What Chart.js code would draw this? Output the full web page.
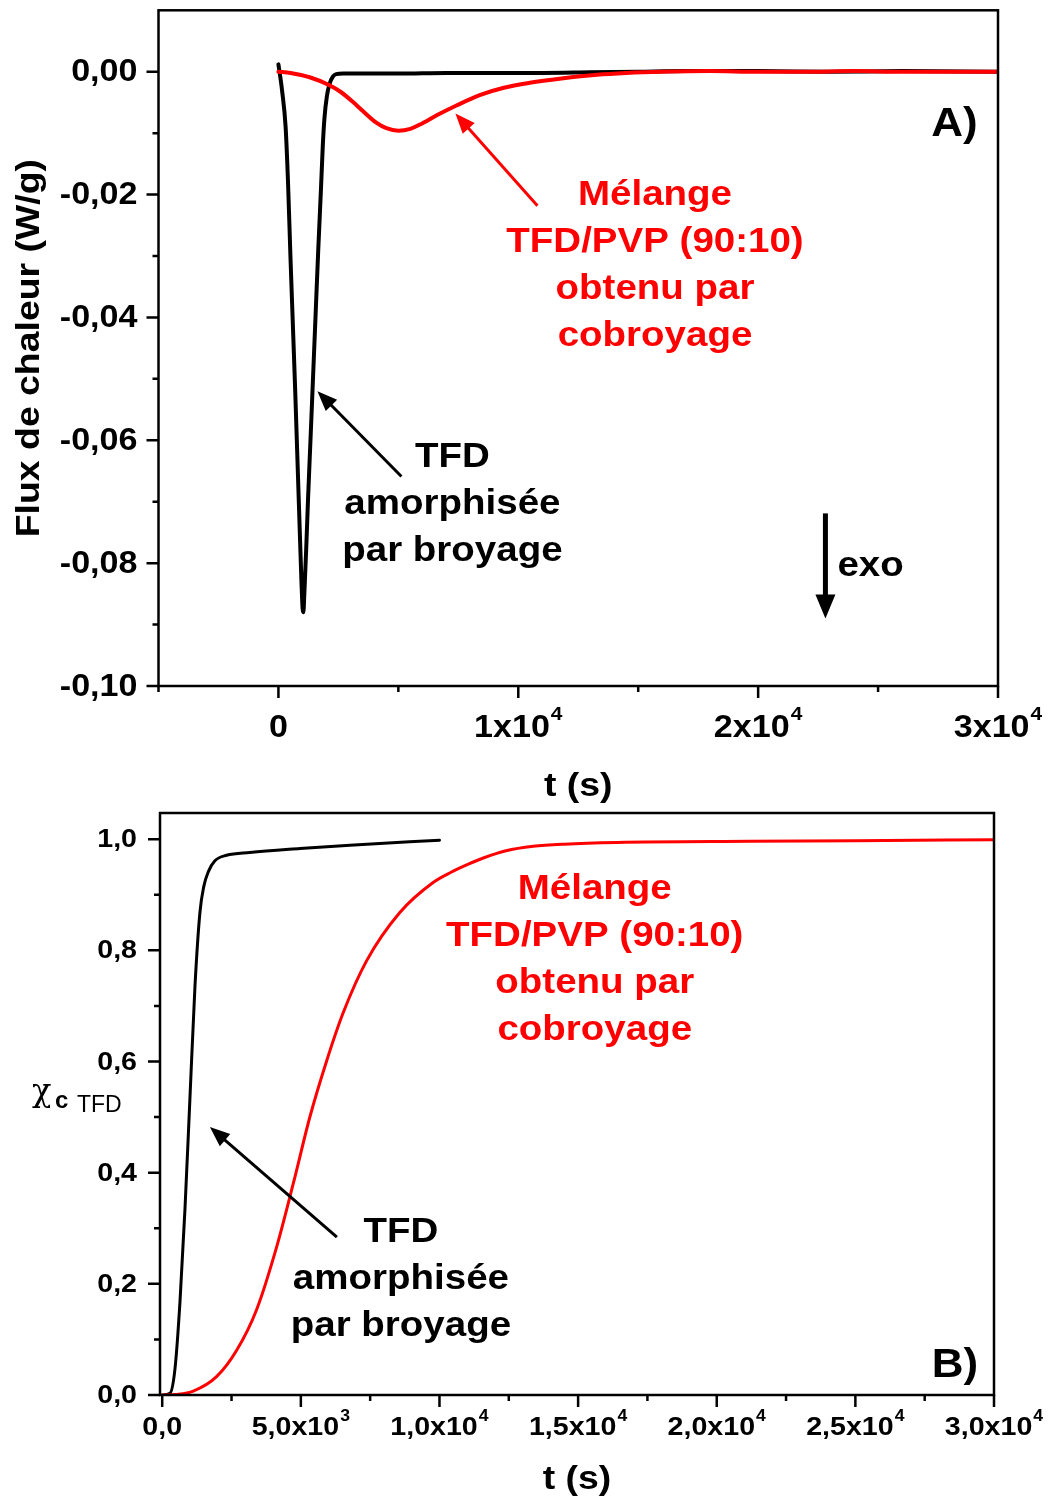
<!DOCTYPE html>
<html>
<head>
<meta charset="utf-8">
<script src="https://cdn.jsdelivr.net/npm/chart.js@4.4.1/dist/chart.umd.min.js"></script>
<style>
    html, body { margin: 0; padding: 0; background: #fff; }
    #chartA { position: absolute; left: 0; top: 0; }
    #chartB { position: absolute; left: 0; top: 808px; }
</style>
</head>
<body>
<canvas id="chartA" width="1050" height="808"></canvas>
<canvas id="chartB" width="1050" height="691"></canvas>
<script>
// ---- données ----
// A) flux de chaleur (W/g) en fonction de t (s)
const dscTimeBlack = [0, 150, 300, 400, 500, 600, 700, 800, 900, 960, 1010, 1040, 1080, 1160, 1240, 1320, 1430, 1545, 1660, 1780, 1850, 1920, 2020, 2130, 2270, 2410, 2700, 3500, 5000, 7000, 9000, 11000, 13000, 15000, 17000, 20000, 23000, 26000, 30000];
const dscFluxBlack = [0.0012, -0.003, -0.009, -0.018, -0.030, -0.041, -0.052, -0.064, -0.076, -0.083, -0.0875, -0.088, -0.085, -0.0775, -0.069, -0.0615, -0.051, -0.040, -0.029, -0.0185, -0.012, -0.0075, -0.004, -0.002, -0.0008, -0.0004, -0.0003, -0.0003, -0.0003, -0.0002, -0.0002, -0.0002, -0.0001, 0.0000, 0.0001, 0.0001, 0.0000, 0.0001, 0.0000];
const dscTimeRed = [0, 500, 1300, 2130, 2600, 3100, 3520, 4080, 4500, 5000, 5500, 5900, 6600, 7420, 8390, 9400, 10480, 11800, 13270, 14500, 16000, 18000, 20000, 22000, 24000, 26000, 28000, 30000];
const dscFluxRed = [0.0000, -0.0002, -0.0009, -0.0022, -0.0033, -0.0049, -0.0064, -0.0083, -0.0092, -0.0096, -0.0093, -0.0086, -0.0071, -0.0055, -0.0038, -0.0026, -0.0018, -0.0011, -0.0005, -0.0002, 0.0000, 0.0001, 0.0000, 0.0000, 0.0001, 0.0000, 0.0000, 0.0000];

// B) taux de cristallisation en fonction de t (s)
const chiTimeBlack = [0, 280, 460, 640, 820, 1000, 1180, 1360, 1500, 1660, 1900, 2320, 3160, 4970, 6770, 10000];
const chiValueBlack = [0, 0.003, 0.047, 0.167, 0.334, 0.534, 0.734, 0.868, 0.915, 0.941, 0.961, 0.971, 0.976, 0.983, 0.989, 0.998];
const chiTimeRed = [0, 500, 1120, 1960, 2680, 3400, 4130, 4730, 5330, 5930, 6530, 7370, 8570, 9770, 10400, 11000, 11580, 12400, 13380, 14500, 16400, 21200, 25000, 30000];
const chiValueRed = [0, 0.001, 0.007, 0.033, 0.080, 0.153, 0.267, 0.381, 0.501, 0.601, 0.688, 0.781, 0.868, 0.922, 0.940, 0.954, 0.966, 0.979, 0.987, 0.991, 0.994, 0.996, 0.997, 0.999];

// graduations
const topXMajor = [0, 10000, 20000, 30000];
const topXLabels = [['0', ''], ['1x10', '4'], ['2x10', '4'], ['3x10', '4']];
const topXMinor = [-5000, 5000, 15000, 25000];
const topYMajor = [0, -0.02, -0.04, -0.06, -0.08, -0.10];
const topYLabels = ['0,00', '-0,02', '-0,04', '-0,06', '-0,08', '-0,10'];
const topYMinor = [-0.01, -0.03, -0.05, -0.07, -0.09];

const botXMajor = [0, 5000, 10000, 15000, 20000, 25000, 30000];
const botXLabels = [['0,0', ''], ['5,0x10', '3'], ['1,0x10', '4'], ['1,5x10', '4'], ['2,0x10', '4'], ['2,5x10', '4'], ['3,0x10', '4']];
const botXMinor = [2500, 7500, 12500, 17500, 22500, 27500];
const botYMajor = [0, 0.2, 0.4, 0.6, 0.8, 1.0];
const botYLabels = ['0,0', '0,2', '0,4', '0,6', '0,8', '1,0'];
const botYMinor = [0.1, 0.3, 0.5, 0.7, 0.9];

const redText = ['Mélange', 'TFD/PVP (90:10)', 'obtenu par', 'cobroyage'];
const blackText = ['TFD', 'amorphisée', 'par broyage'];

// ---- outils de dessin ----
const FAMILY = '"Liberation Sans", Arial, sans-serif';
const SX = 1.1; // léger étirement horizontal du texte

function toXY(xs, ys) {
    return xs.map((x, i) => ({ x: x, y: ys[i] }));
}

function drawText(ctx, str, x, y, opt) {
    ctx.save();
    ctx.translate(x, y);
    if (opt.rotate) ctx.rotate(opt.rotate);
    ctx.scale(opt.sx || SX, 1);
    ctx.font = opt.font;
    ctx.fillStyle = opt.color || '#000';
    ctx.textAlign = opt.align || 'center';
    ctx.textBaseline = opt.baseline || 'middle';
    ctx.fillText(str, 0, 0);
    ctx.restore();
}

function drawSupLabel(ctx, base, sup, cx, cy, size) {
    const fb = `bold ${size}px ${FAMILY}`;
    const fs = `bold ${Math.round(size * 0.62)}px ${FAMILY}`;
    ctx.save();
    ctx.font = fb;
    const wb = ctx.measureText(base).width;
    ctx.font = fs;
    const ws = sup ? ctx.measureText(sup).width + 1 : 0;
    ctx.restore();
    const left = cx - (wb + ws) * SX / 2;
    drawText(ctx, base, left, cy, { font: fb, align: 'left' });
    if (sup) drawText(ctx, sup, left + wb * SX + 1, cy - size * 0.42, { font: fs, align: 'left' });
}

function drawArrow(ctx, x1, y1, x2, y2, color, lw, hl, hw) {
    const ang = Math.atan2(y2 - y1, x2 - x1);
    const bx = x2 - hl * Math.cos(ang);
    const by = y2 - hl * Math.sin(ang);
    ctx.save();
    ctx.strokeStyle = color;
    ctx.fillStyle = color;
    ctx.lineWidth = lw;
    ctx.beginPath();
    ctx.moveTo(x1, y1);
    ctx.lineTo(bx + 2 * Math.cos(ang), by + 2 * Math.sin(ang));
    ctx.stroke();
    ctx.beginPath();
    ctx.moveTo(x2, y2);
    ctx.lineTo(bx + hw * Math.sin(ang), by - hw * Math.cos(ang));
    ctx.lineTo(bx - hw * Math.sin(ang), by + hw * Math.cos(ang));
    ctx.closePath();
    ctx.fill();
    ctx.restore();
}

function drawTicks(ctx, scale, values, len, horizontal, a) {
    ctx.beginPath();
    values.forEach(v => {
        const p = scale.getPixelForValue(v);
        if (horizontal) { ctx.moveTo(p, a.bottom); ctx.lineTo(p, a.bottom + len); }
        else { ctx.moveTo(a.left, p); ctx.lineTo(a.left - len, p); }
    });
    ctx.stroke();
}

// plugin : cadre, graduations, titres et annotations
function makeDecor(o) {
    return {
        id: 'decor',
        afterDraw(chart) {
            const ctx = chart.ctx;
            const a = chart.chartArea;
            const xs = chart.scales.x;
            const ys = chart.scales.y;
            const px = v => xs.getPixelForValue(v);
            const py = v => ys.getPixelForValue(v);

            ctx.save();
            ctx.strokeStyle = '#000';
            ctx.lineWidth = 2.5;
            ctx.strokeRect(a.left, a.top, a.right - a.left, a.bottom - a.top);
            drawTicks(ctx, xs, o.xMajor, 12, true, a);
            drawTicks(ctx, xs, o.xMinor, 6, true, a);
            drawTicks(ctx, ys, o.yMajor, 12, false, a);
            drawTicks(ctx, ys, o.yMinor, 6, false, a);
            ctx.restore();

            // étiquettes des graduations
            o.xMajor.forEach((v, i) => {
                drawSupLabel(ctx, o.xLabels[i][0], o.xLabels[i][1], px(v), a.bottom + o.xLabelOffset, o.tickSize);
            });
            o.yMajor.forEach((v, i) => {
                drawText(ctx, o.yLabels[i], a.left - o.yLabelOffset, py(v) + 1, { font: `bold ${o.tickSize}px ${FAMILY}`, align: 'right' });
            });

            // titre de l'axe x
            drawText(ctx, 't (s)', (a.left + a.right) / 2, a.bottom + o.xTitleOffset, { font: `bold 34px ${FAMILY}` });

            // titre de l'axe y
            if (o.yTitle) {
                drawText(ctx, o.yTitle, 30, (a.top + a.bottom) / 2, { font: `bold 34px ${FAMILY}`, rotate: -Math.PI / 2 });
            }
            if (o.chiTitle) {
                const yy = py(o.chiTitle.y);
                drawText(ctx, 'χ', 32, yy + 1, { font: '32px "DejaVu Serif", serif', align: 'left', baseline: 'alphabetic', sx: 1 });
                drawText(ctx, 'c', 55, yy + 8, { font: `bold 24px ${FAMILY}`, align: 'left', baseline: 'alphabetic', sx: 1 });
                drawText(ctx, 'TFD', 77, yy + 12, { font: `23px ${FAMILY}`, align: 'left', baseline: 'alphabetic', sx: 1 });
            }

            // textes annotés
            o.notes.forEach(n => {
                n.lines.forEach((s, i) => {
                    drawText(ctx, s, px(n.t), py(n.v) + i * 47, { font: `bold 35px ${FAMILY}`, color: n.color });
                });
            });
            o.arrows.forEach(ar => {
                drawArrow(ctx, px(ar.t1), py(ar.v1), px(ar.t2), py(ar.v2), ar.color, ar.lw, ar.hl, ar.hw);
            });
            drawText(ctx, o.panel.label, px(o.panel.t), py(o.panel.v), { font: `bold 40px ${FAMILY}` });
            if (o.exo) {
                drawArrow(ctx, px(o.exo.t), py(o.exo.v1), px(o.exo.t), py(o.exo.v2), '#000', 5, 24, 10);
                drawText(ctx, 'exo', px(o.exo.tText), py(o.exo.vText), { font: `bold 35px ${FAMILY}`, align: 'left' });
            }
        }
    };
}

function baseScales(xmin, xmax, ymin, ymax) {
    const hidden = {
        ticks: { display: false },
        grid: { display: false, drawTicks: false },
        border: { display: false },
        title: { display: false }
    };
    return {
        x: Object.assign({ type: 'linear', min: xmin, max: xmax }, hidden),
        y: Object.assign({ type: 'linear', min: ymin, max: ymax }, hidden)
    };
}

function lineSet(points, color, width) {
    return {
        data: points,
        borderColor: color,
        borderWidth: width,
        pointRadius: 0,
        fill: false,
        cubicInterpolationMode: 'monotone',
        borderJoinStyle: 'round',
        borderCapStyle: 'round'
    };
}

// ---- A) ----
new Chart(document.getElementById('chartA'), {
    type: 'line',
    data: {
        datasets: [
            lineSet(toXY(dscTimeRed, dscFluxRed), '#ff0000', 4),
            lineSet(toXY(dscTimeBlack, dscFluxBlack), '#000000', 4)
        ]
    },
    options: {
        responsive: false,
        animation: false,
        events: [],
        layout: { padding: { left: 158.5, top: 10.3, right: 52, bottom: 122 } },
        plugins: { legend: { display: false }, tooltip: { enabled: false } },
        scales: baseScales(-5000, 30000, -0.10, 0.01)
    },
    plugins: [makeDecor({
        xMajor: topXMajor, xLabels: topXLabels, xMinor: topXMinor,
        yMajor: topYMajor, yLabels: topYLabels, yMinor: topYMinor,
        tickSize: 31, xLabelOffset: 42, yLabelOffset: 21, xTitleOffset: 101,
        yTitle: 'Flux de chaleur (W/g)',
        notes: [
            { lines: redText, t: 15700, v: -0.0201, color: '#ff0000' },
            { lines: blackText, t: 7254, v: -0.0628, color: '#000000' }
        ],
        arrows: [
            { t1: 10798, v1: -0.0218, t2: 7379, v2: -0.0068, color: '#ff0000', lw: 3, hl: 20, hw: 8 },
            { t1: 5128, v1: -0.0659, t2: 1626, v2: -0.0520, color: '#000000', lw: 3, hl: 20, hw: 8 }
        ],
        panel: { label: 'A)', t: 28183, v: -0.0086 },
        exo: { t: 22805, v1: -0.0719, v2: -0.0890, tText: 23305, vText: -0.0805 }
    })]
});

// ---- B) ----
new Chart(document.getElementById('chartB'), {
    type: 'line',
    data: {
        datasets: [
            lineSet(toXY(chiTimeRed, chiValueRed), '#ff0000', 3),
            lineSet(toXY(chiTimeBlack, chiValueBlack), '#000000', 3)
        ]
    },
    options: {
        responsive: false,
        animation: false,
        events: [],
        layout: { padding: { left: 160, top: 5, right: 56, bottom: 104 } },
        plugins: { legend: { display: false }, tooltip: { enabled: false } },
        scales: baseScales(-80, 30000, 0, 1.047)
    },
    plugins: [makeDecor({
        xMajor: botXMajor, xLabels: botXLabels, xMinor: botXMinor,
        yMajor: botYMajor, yLabels: botYLabels, yMinor: botYMinor,
        tickSize: 26, xLabelOffset: 33, yLabelOffset: 23, xTitleOffset: 85,
        chiTitle: { y: 0.53 },
        notes: [
            { lines: redText, t: 15600, v: 0.909, color: '#ff0000' },
            { lines: blackText, t: 8609, v: 0.292, color: '#000000' }
        ],
        arrows: [
            { t1: 6301, v1: 0.284, t2: 1720, v2: 0.482, color: '#000000', lw: 3, hl: 20, hw: 8 }
        ],
        panel: { label: 'B)', t: 28590, v: 0.052 }
    })]
});
</script>
</body>
</html>
